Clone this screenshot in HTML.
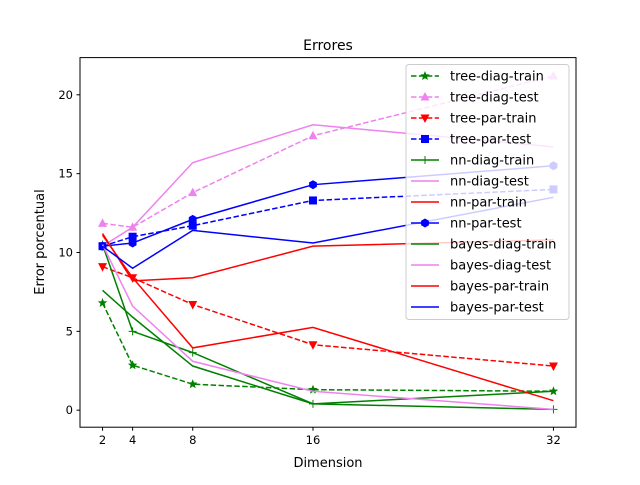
<!DOCTYPE html>
<html><head><meta charset="utf-8"><style>
body{margin:0;background:#fff;font-family:"Liberation Sans","DejaVu Sans",sans-serif}
svg text{font-family:"DejaVu Sans","Liberation Sans",sans-serif}
</style></head><body>
<svg id="chart" width="640" height="480" xmlns="http://www.w3.org/2000/svg">
<rect width="640" height="480" fill="#fff"/>
<text x="328" y="50" font-size="14" text-anchor="middle">Errores</text>
<g id="plot"></g>
<rect x="80" y="57.6" width="496" height="369.6" fill="none" stroke="#000" stroke-width="1"/>
<g id="ticks"></g>
<text x="328" y="467" font-size="13" text-anchor="middle">Dimension</text>
<text transform="translate(44,242) rotate(-90)" font-size="13" text-anchor="middle">Error porcentual</text>
<g id="legend"></g>
</svg>
<script>
const dims=[2,4,8,16,32];
const seriesNames=["tree-diag-train","tree-diag-test","tree-par-train","tree-par-test","nn-diag-train","nn-diag-test","nn-par-train","nn-par-test","bayes-diag-train","bayes-diag-test","bayes-par-train","bayes-par-test"];
const treeDiagTrain=[6.8,2.85,1.65,1.3,1.2];
const treeDiagTest=[11.85,11.6,13.8,17.4,21.2];
const treeParTrain=[9.1,8.4,6.7,4.15,2.8];
const treeParTest=[10.4,11.0,11.7,13.3,14.0];
const nnDiagTrain=[10.5,5.0,3.65,0.4,0.05];
const nnDiagTest=[10.4,11.6,15.7,18.1,16.7];
const nnParTrain=[11.2,8.2,8.4,10.4,10.8];
const nnParTest=[10.4,10.6,12.1,14.3,15.5];
const bayesDiagTrain=[7.6,5.9,2.8,0.4,1.2];
const bayesDiagTest=[10.5,6.6,3.1,1.2,0.05];
const bayesParTrain=[11.1,8.4,3.95,5.25,0.6];
const bayesParTest=[10.4,9.0,11.4,10.6,13.5];
const xTicks=[2,4,8,16,32];
const yTicks=[0,5,10,15,20];
const allVals=[treeDiagTrain,treeDiagTest,treeParTrain,treeParTest,nnDiagTrain,nnDiagTest,nnParTrain,nnParTest,bayesDiagTrain,bayesDiagTest,bayesParTrain,bayesParTest];
const colors=["green","violet","red","blue","green","violet","red","blue","green","violet","red","blue"];
const dashed=[1,1,1,1,0,0,0,0,0,0,0,0];
const markers=["star","tri","tridown","square","plus","none","none","hex","none","none","none","none"];
const L=80,R=576,T=57.6,B=427.2,xmin=0.5,xmax=33.5,ymin=-1.08,ymax=22.36;
const sx=v=>L+(v-xmin)/(xmax-xmin)*(R-L);
const sy=v=>B-(v-ymin)/(ymax-ymin)*(B-T);
const NS="http://www.w3.org/2000/svg";
function mk(t,a,p){const e=document.createElementNS(NS,t);for(const k in a)e.setAttribute(k,a[k]);p.appendChild(e);return e;}
function marker(type,x,y,c,p){
 let e=null;
 if(type==="star"){let pts=[];for(let i=0;i<10;i++){const r=i%2?2.2:5,a=-Math.PI/2+i*Math.PI/5;pts.push((x+r*Math.cos(a)).toFixed(1)+","+(y+r*Math.sin(a)).toFixed(1));}e=mk("polygon",{points:pts.join(" "),fill:c},p);}
 else if(type==="tri")e=mk("polygon",{points:`${x},${y-5} ${x-4.5},${y+3.5} ${x+4.5},${y+3.5}`,fill:c},p);
 else if(type==="tridown")e=mk("polygon",{points:`${x},${y+5} ${x-4.5},${y-3.5} ${x+4.5},${y-3.5}`,fill:c},p);
 else if(type==="square")e=mk("rect",{x:x-4,y:y-4,width:8,height:8,fill:c},p);
 else if(type==="plus")e=mk("path",{d:`M${x-4},${y}H${x+4}M${x},${y-4}V${y+4}`,stroke:c,"stroke-width":1},p);
 else if(type==="hex"){let pts=[];for(let i=0;i<6;i++){const a=-Math.PI/2+i*Math.PI/3;pts.push((x+4.5*Math.cos(a)).toFixed(1)+","+(y+4.5*Math.sin(a)).toFixed(1));}e=mk("polygon",{points:pts.join(" "),fill:c},p);}
 return e;
}
const plot=document.getElementById("plot");
allVals.forEach((vals,i)=>{
 const g=mk("g",{},plot);
 
 
 const pl=mk("polyline",{points:vals.map((v,j)=>sx(dims[j])+","+sy(v)).join(" "),fill:"none",stroke:colors[i],"stroke-width":1.5},g);
 if(dashed[i])pl.setAttribute("stroke-dasharray","5.5,2.4");
 
 
 vals.forEach((v,j)=>{const m=marker(markers[i],sx(dims[j]),sy(v),colors[i],g);if(m){
  
  }});
});
const tk=document.getElementById("ticks");
xTicks.forEach(t=>{
 const l=mk("line",{x1:sx(t),x2:sx(t),y1:B,y2:B+3.5,stroke:"#000"},tk);
 
 
 const tx=mk("text",{x:sx(t),y:B+17,"font-size":11.5,"text-anchor":"middle"},tk);tx.textContent=t;
 
 
});
yTicks.forEach(t=>{
 const l=mk("line",{x1:L-3.5,x2:L,y1:sy(t),y2:sy(t),stroke:"#000"},tk);
 
 
 const tx=mk("text",{x:L-7,y:sy(t)+4,"font-size":11.5,"text-anchor":"end"},tk);tx.textContent=t;
 
 
});
const lg=document.getElementById("legend");
const box=mk("rect",{x:406,y:64.5,width:163,height:255,rx:3,fill:"#fff","fill-opacity":0.8,stroke:"#ccc"},lg);


seriesNames.forEach((n,i)=>{
 const y=76+i*21;
 const g=mk("g",{},lg);
 
 
 const l=mk("line",{x1:411,x2:439,y1:y,y2:y,stroke:colors[i],"stroke-width":1.5},g);
 if(dashed[i])l.setAttribute("stroke-dasharray","5.5,2.4");
 marker(markers[i],425,y,colors[i],g);
 const t=mk("text",{x:450,y:y+4.5,"font-size":13},g);t.textContent=n;
});
</script>
</body></html>
